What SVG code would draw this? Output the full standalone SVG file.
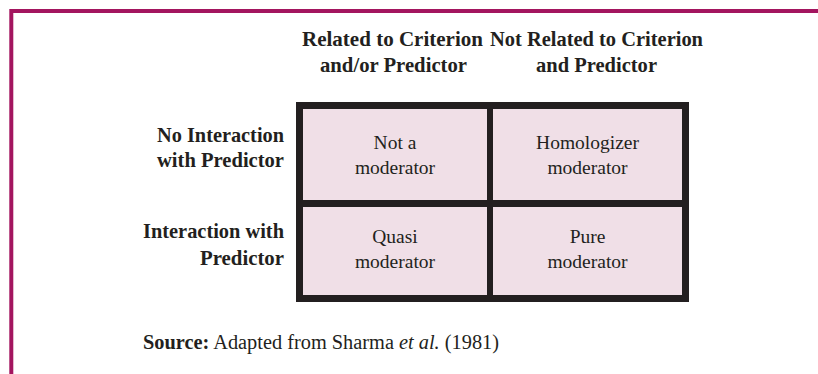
<svg xmlns="http://www.w3.org/2000/svg" width="818" height="374" viewBox="0 0 818 374">
  <style>
    .hdr { font-family: "Liberation Serif", "Times New Roman", serif; font-weight: bold; font-size: 21px; fill: #231f20; }
    .cell { font-family: "Liberation Serif", "Times New Roman", serif; font-size: 19.5px; fill: #231f20; text-anchor: middle; }
    .pink { fill: #f0dfe7; }
    .src { font-family: "Liberation Serif", "Times New Roman", serif; font-size: 20.5px; fill: #231f20; }
  </style>
  <rect x="0" y="0" width="818" height="374" fill="#ffffff"/>
  <g id="frame">
    <polyline points="11.3,374 11.3,11 818,11" fill="none" stroke="#a3155f" stroke-width="4" stroke-linejoin="miter"/>
  </g>
  <g id="col-headers">
    <text class="hdr" x="302" y="46" textLength="181" lengthAdjust="spacingAndGlyphs">Related to Criterion</text>
    <text class="hdr" x="320" y="72" textLength="147" lengthAdjust="spacingAndGlyphs">and/or Predictor</text>
    <text class="hdr" x="490" y="46" textLength="213" lengthAdjust="spacingAndGlyphs">Not Related to Criterion</text>
    <text class="hdr" x="536" y="72" textLength="121" lengthAdjust="spacingAndGlyphs">and Predictor</text>
  </g>
  <g id="row-headers">
    <text class="hdr" x="157" y="142" textLength="127" lengthAdjust="spacingAndGlyphs">No Interaction</text>
    <text class="hdr" x="157" y="167" textLength="127" lengthAdjust="spacingAndGlyphs">with Predictor</text>
    <text class="hdr" x="143" y="238" textLength="141" lengthAdjust="spacingAndGlyphs">Interaction with</text>
    <text class="hdr" x="200" y="265" textLength="84" lengthAdjust="spacingAndGlyphs">Predictor</text>
  </g>
  <g id="grid">
    <rect x="296" y="102" width="393" height="200" fill="#231f20"/>
  </g>
  <g id="cell-not-a-moderator">
    <rect class="pink" x="303" y="109" width="184" height="91"/>
    <text class="cell" x="395" y="149">Not a</text>
    <text class="cell" x="395" y="174">moderator</text>
  </g>
  <g id="cell-homologizer-moderator">
    <rect class="pink" x="493" y="109" width="189" height="91"/>
    <text class="cell" x="587.5" y="149">Homologizer</text>
    <text class="cell" x="587.5" y="174">moderator</text>
  </g>
  <g id="cell-quasi-moderator">
    <rect class="pink" x="303" y="207" width="184" height="88"/>
    <text class="cell" x="395" y="243">Quasi</text>
    <text class="cell" x="395" y="268">moderator</text>
  </g>
  <g id="cell-pure-moderator">
    <rect class="pink" x="493" y="207" width="189" height="88"/>
    <text class="cell" x="587.5" y="243">Pure</text>
    <text class="cell" x="587.5" y="268">moderator</text>
  </g>
  <g id="source">
    <text class="src" x="143" y="349" textLength="356" lengthAdjust="spacingAndGlyphs"><tspan font-weight="bold">Source:</tspan> Adapted from Sharma <tspan font-style="italic">et al.</tspan> (1981)</text>
  </g>
</svg>
